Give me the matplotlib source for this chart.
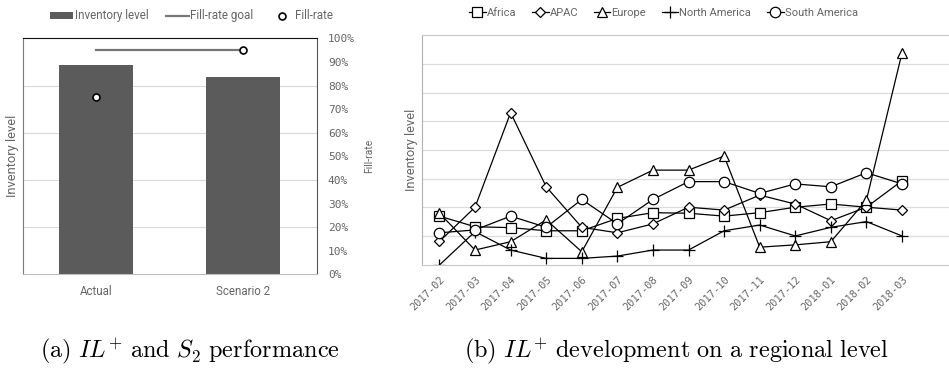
import matplotlib
matplotlib.use("Agg")
import matplotlib.pyplot as plt
from matplotlib.lines import Line2D
from matplotlib.patches import Patch
from matplotlib.ticker import FixedLocator, FixedFormatter

plt.rcParams["mathtext.fontset"] = "cm"

# ---- (a) inventory level vs fill-rate per scenario ----
scenarios = ["Actual", "Scenario 2"]
inventory_level = [4.43, 4.19]
fill_rate = [0.75, 0.95]
fill_rate_goal = [0.95, 0.95]
pct_ticks = [i / 10 for i in range(11)]
pct_labels = [f"{i * 10}%" for i in range(11)]

# ---- (b) monthly inventory level per region ----
months = ["2017-02", "2017-03", "2017-04", "2017-05", "2017-06", "2017-07",
          "2017-08", "2017-09", "2017-10", "2017-11", "2017-12", "2018-01",
          "2018-02", "2018-03"]
africa = [1.70, 1.33, 1.30, 1.19, 1.19, 1.62, 1.82, 1.80, 1.70, 1.82, 2.01, 2.12, 2.01, 2.93]
apac = [0.82, 2.01, 5.30, 2.72, 1.31, 1.12, 1.43, 2.01, 1.91, 2.43, 2.12, 1.54, 2.01, 1.91]
europe = [1.80, 0.52, 0.81, 1.57, 0.46, 2.70, 3.30, 3.30, 3.79, 0.62, 0.70, 0.81, 2.26, 7.38]
north_america = [0.00, 1.16, 0.52, 0.23, 0.23, 0.31, 0.52, 0.52, 1.19, 1.39, 1.01, 1.31, 1.51, 1.01]
south_america = [1.12, 1.22, 1.70, 1.31, 2.28, 1.43, 2.28, 2.90, 2.90, 2.49, 2.82, 2.72, 3.21, 2.82]

# marker and marker size for each region
regions = [
    ("Africa", africa, "s", 7),
    ("APAC", apac, "D", 5.5),
    ("Europe", europe, "^", 7.5),
    ("North America", north_america, "+", 8),
    ("South America", south_america, "o", 7.5),
]

TXT = "#666666"
SANS = ["Roboto", "DejaVu Sans"]
MONO = ["DejaVu Sans Mono"]

fig = plt.figure(figsize=(9.49, 3.70), dpi=100)

# ===================== panel (a) =====================
ax1 = fig.add_axes([0.0239, 0.2586, 0.3098, 0.6378])
xpos = list(range(len(scenarios)))
ax1.bar(xpos, inventory_level, width=0.5, color="#5b5b5b", zorder=2)
ax1.set_xlim(-0.5, 1.5)
ax1.set_ylim(0, 5)
ax1.yaxis.set_major_locator(FixedLocator([1, 2, 3, 4]))
ax1.grid(axis="y", color="#d9d9d9", linewidth=0.8, zorder=0)
ax1.set_axisbelow(True)
ax1.tick_params(axis="y", length=0, labelleft=False)
ax1.tick_params(axis="x", length=0, pad=8)
ax1.set_xticks(xpos)
ax1.set_xticklabels(scenarios, fontsize=8.3, color=TXT, family=SANS)
ax1.set_ylabel("Inventory level", fontsize=9.3, color=TXT, family=SANS, labelpad=3)
ax1.spines["left"].set_color("#7a7a7a")
ax1.spines["top"].set_color("#111111")
ax1.spines["right"].set_color("#555555")
ax1.spines["bottom"].set_color("#bdbdbd")

ax1r = ax1.twinx()
ax1r.set_ylim(0, 1)
ax1r.plot(xpos, fill_rate_goal, color="#777777", linewidth=1.6, zorder=3)
ax1r.plot(xpos, fill_rate, linestyle="none", marker="o", markersize=5,
          markerfacecolor="white", markeredgecolor="black", markeredgewidth=1.2, zorder=4)
ax1r.yaxis.set_major_locator(FixedLocator(pct_ticks))
ax1r.yaxis.set_major_formatter(FixedFormatter(pct_labels))
ax1r.tick_params(axis="y", length=0, pad=8, labelsize=8, labelcolor=TXT)
for lab in ax1r.get_yticklabels():
    lab.set_family(MONO)
ax1r.set_ylabel("Fill-rate", fontsize=7.5, color=TXT, family=SANS, labelpad=7)
for s in ax1r.spines.values():
    s.set_visible(False)

handles_a = [
    Patch(facecolor="#5b5b5b", edgecolor="none"),
    Line2D([], [], color="#777777", linewidth=1.6),
    Line2D([], [], linestyle="none", marker="o", markersize=5,
           markerfacecolor="white", markeredgecolor="black", markeredgewidth=1.2),
]
fig.legend(handles_a, ["Inventory level", "Fill-rate goal", "Fill-rate"],
           loc="center", bbox_to_anchor=(0.202, 0.957), ncol=3, frameon=False,
           prop={"family": SANS, "size": 8.4}, labelcolor=TXT,
           handlelength=2.0, handleheight=0.5, handletextpad=0.1, columnspacing=1.5)

# ===================== panel (b) =====================
ax2 = fig.add_axes([0.4447, 0.2838, 0.5553, 0.6216])
xs = list(range(len(months)))
for name, vals, mk, ms in regions:
    ax2.plot(xs, vals, color="black", linewidth=0.9, marker=mk, markersize=ms,
             markerfacecolor="white", markeredgecolor="black",
             markeredgewidth=0.9, label=name)
ax2.set_xlim(-0.49, 14.32)
ax2.set_ylim(0, 8)
ax2.yaxis.set_major_locator(FixedLocator([1, 2, 3, 4, 5, 6, 7]))
ax2.grid(axis="y", color="#dcdcdc", linewidth=0.9, zorder=0)
ax2.set_axisbelow(True)
ax2.tick_params(axis="y", length=0, labelleft=False)
ax2.set_xticks(xs)
ax2.set_xticklabels(months, rotation=45, ha="right", rotation_mode="anchor",
                    fontsize=7.5, color=TXT, family=MONO)
ax2.tick_params(axis="x", length=0, pad=7)
ax2.set_ylabel("Inventory level", fontsize=9.3, color=TXT, family=SANS, labelpad=3)
ax2.spines["left"].set_color("#b0b0b0")
ax2.spines["bottom"].set_color("#c8c8c8")
ax2.spines["top"].set_color("#c8c8c8")
ax2.spines["right"].set_visible(False)

fig.legend(*ax2.get_legend_handles_labels(), loc="center",
           bbox_to_anchor=(0.699, 0.964), ncol=5, frameon=False,
           prop={"family": SANS, "size": 8}, labelcolor=TXT,
           handlelength=1.5, handletextpad=0.1, columnspacing=1.4)

# ===================== captions =====================
fig.text(0.200, 0.032, r"$\mathrm{(a)\ }IL^{+}\mathrm{\ and\ }S_{2}\mathrm{\ performance}$",
         ha="center", va="baseline", fontsize=17.5)
fig.text(0.713, 0.032, r"$\mathrm{(b)\ }IL^{+}\mathrm{\ development\ on\ a\ regional\ level}$",
         ha="center", va="baseline", fontsize=17.5)

fig.savefig("out.png", dpi=100)
